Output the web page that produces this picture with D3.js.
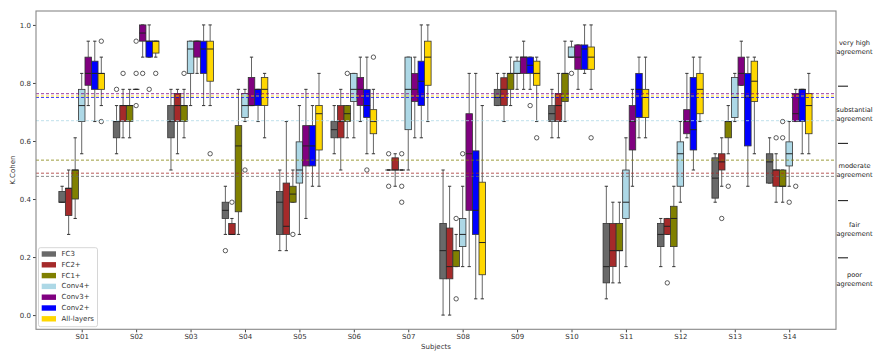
<!DOCTYPE html>
<html>
<head>
<meta charset="utf-8">
<script src="https://cdn.jsdelivr.net/npm/d3@7"></script>
<style>
  body { margin: 0; background: #fff; }
  svg { display: block; }
  text { font-family: "DejaVu Sans", sans-serif; }
</style>
</head>
<body>
<svg id="chart" width="873" height="351"></svg>
<script>
// Subjects on the x axis
const subjects = ["S01","S02","S03","S04","S05","S06","S07","S08","S09","S10","S11","S12","S13","S14"];

// Model variants (one box per subject each) and their colours
const seriesNames = ["FC3","FC2+","FC1+","Conv4+","Conv3+","Conv2+","All-layers"];
const seriesColors = ["#696969","#a52a2a","#808000","#add8e6","#800080","#0000ff","#ffd700"];

// Box statistics per subject: [whisker low, q1, median, q3, whisker high]
const fc3 = [
  [0.389,0.389,0.389,0.426,0.444],[0.556,0.611,0.667,0.667,0.722],[0.5,0.611,0.667,0.722,0.778],
  [0.278,0.333,0.361,0.389,0.444],[0.222,0.278,0.389,0.426,0.5],[0.556,0.611,0.639,0.667,0.722],
  [0.5,0.5,0.5,0.5,0.5],[0.0,0.125,0.222,0.316,0.5],[0.722,0.722,0.75,0.778,0.833],
  [0.611,0.667,0.694,0.722,0.778],[0.056,0.111,0.167,0.316,0.444],[0.167,0.236,0.278,0.316,0.333],
  [0.389,0.403,0.472,0.542,0.556],[0.455,0.455,0.528,0.556,0.611]
];
const fc2 = [
  [0.278,0.343,0.437,0.437,0.5],[0.611,0.667,0.722,0.722,0.778],[0.556,0.667,0.722,0.764,0.778],
  [0.278,0.278,0.278,0.316,0.333],[0.222,0.278,0.306,0.455,0.667],[0.5,0.611,0.667,0.722,0.778],
  [0.444,0.5,0.5,0.542,0.556],[0.0,0.125,0.167,0.3,0.444],[0.667,0.722,0.778,0.818,0.833],
  [0.611,0.667,0.722,0.764,0.833],[0.111,0.167,0.222,0.316,0.389],[0.278,0.278,0.306,0.333,0.333],
  [0.444,0.5,0.528,0.556,0.611],[0.389,0.444,0.5,0.5,0.556]
];
const fc1 = [
  [0.333,0.4,0.5,0.5,0.611],[0.611,0.667,0.722,0.722,0.778],[0.611,0.667,0.722,0.722,0.778],
  [0.278,0.356,0.583,0.653,0.778],[0.389,0.389,0.417,0.444,0.5],[0.611,0.667,0.694,0.722,0.722],
  [0.5,0.5,0.5,0.5,0.5],[0.167,0.167,0.222,0.222,0.278],[0.722,0.778,0.833,0.833,0.889],
  [0.667,0.736,0.833,0.833,0.944],[0.111,0.222,0.222,0.316,0.389],[0.167,0.236,0.333,0.375,0.444],
  [0.556,0.611,0.667,0.667,0.722],[0.389,0.444,0.444,0.5,0.5]
];
const conv4 = [
  [0.556,0.667,0.722,0.778,0.833],[0.778,0.778,0.778,0.778,0.778],[0.722,0.833,0.917,0.944,0.944],
  [0.667,0.681,0.722,0.764,0.778],[0.278,0.455,0.5,0.597,0.722],[0.611,0.736,0.778,0.833,0.833],
  [0.5,0.639,0.778,0.889,0.889],[0.167,0.236,0.278,0.333,0.444],[0.778,0.833,0.833,0.875,0.889],
  [0.889,0.889,0.889,0.924,0.944],[0.167,0.333,0.389,0.5,0.611],[0.389,0.444,0.556,0.597,0.667],
  [0.667,0.681,0.75,0.819,0.833],[0.444,0.514,0.556,0.597,0.667]
];
const conv3 = [
  [0.722,0.792,0.833,0.889,0.944],[0.889,0.944,0.972,1.0,1.0],[0.833,0.889,0.944,0.944,0.944],
  [0.722,0.722,0.722,0.819,0.889],[0.333,0.514,0.583,0.653,0.778],[0.667,0.722,0.778,0.819,0.889],
  [0.611,0.736,0.778,0.833,0.889],[0.167,0.361,0.556,0.694,0.833],[0.778,0.833,0.889,0.889,0.944],
  [0.778,0.847,0.889,0.931,0.931],[0.444,0.569,0.667,0.722,0.778],[0.611,0.625,0.667,0.708,0.833],
  [0.792,0.792,0.833,0.889,0.944],[0.667,0.667,0.694,0.764,0.778]
];
const conv2 = [
  [0.667,0.778,0.833,0.875,0.944],[0.889,0.889,0.944,0.944,1.0],[0.722,0.833,0.917,0.944,1.0],
  [0.667,0.722,0.778,0.778,0.778],[0.444,0.514,0.583,0.653,0.722],[0.556,0.681,0.722,0.778,0.889],
  [0.611,0.722,0.806,0.875,1.0],[0.056,0.278,0.361,0.566,0.833],[0.778,0.833,0.861,0.889,0.889],
  [0.833,0.847,0.917,0.931,1.0],[0.611,0.681,0.778,0.833,0.889],[0.5,0.569,0.639,0.819,0.889],
  [0.444,0.583,0.75,0.833,0.889],[0.556,0.667,0.778,0.778,0.778]
];
const allLayers = [
  [0.722,0.778,0.833,0.833,0.889],[0.889,0.903,0.944,0.944,0.944],[0.722,0.806,0.917,0.944,1.0],
  [0.611,0.722,0.778,0.819,0.833],[0.444,0.569,0.694,0.722,0.833],[0.556,0.625,0.667,0.708,0.778],
  [0.667,0.792,0.889,0.944,1.0],[0.056,0.139,0.25,0.458,0.722],[0.667,0.792,0.833,0.875,0.889],
  [0.778,0.847,0.889,0.924,1.0],[0.611,0.681,0.75,0.778,0.889],[0.667,0.694,0.778,0.833,0.889],
  [0.556,0.736,0.806,0.875,0.889],[0.556,0.625,0.722,0.764,0.833]
];

// Outliers: [subject index (1-based), value]
const fc3Out = [[2,0.778],[4,0.222],[7,0.556],[7,0.444]];
const fc2Out = [[2,0.833],[4,0.389],[12,0.111],[13,0.333],[14,0.611]];
const fc1Out = [[3,0.833],[5,0.278],[6,0.833],[7,0.556],[7,0.444],[7,0.389],[8,0.333],[8,0.056],[13,0.444],[14,0.611],[14,0.667]];
const conv4Out = [[2,0.722],[2,0.833],[2,0.944],[4,0.5],[8,0.556],[10,0.833],[14,0.389]];
const conv3Out = [[2,0.833],[14,0.444]];
const conv2Out = [[2,0.778],[6,0.5],[9,0.722]];
const allOut = [[1,0.944],[1,0.667],[2,0.833],[3,0.556],[6,0.889],[9,0.611],[10,0.611]];

// Overall mean kappa per variant (dashed reference lines)
const meanKappa = [0.478, 0.489, 0.534, 0.670, 0.763, 0.750, 0.755];

// Agreement bands on the right-hand side
const agreementTicks = [0.2, 0.4, 0.6, 0.8];
const agreementLabels = [["very high","agreement"],["substantial","agreement"],["moderate","agreement"],["fair","agreement"],["poor","agreement"]];
const agreementLabelPos = [0.935, 0.70, 0.505, 0.30, 0.125];

const yTicks = [0.0, 0.2, 0.4, 0.6, 0.8, 1.0];

const stats = [fc3, fc2, fc1, conv4, conv3, conv2, allLayers];
const outliers = [fc3Out, fc2Out, fc1Out, conv4Out, conv3Out, conv2Out, allOut];

const svg = d3.select("#chart");
const plotLeft = 36, plotRight = 836, plotTop = 11, plotBottom = 329.3;

const x = d3.scaleLinear().domain([0.16, 14.86]).range([plotLeft, plotRight]);
const y = d3.scaleLinear().domain([-0.049, 1.048]).range([plotBottom, plotTop]);
const yR = d3.scaleLinear().domain([0, 1]).range([315, 29]);

const step = 0.12;
const bw = x(step) - x(0);
const pos = (i, j) => x(i + 1 + (j - 3) * step);

// Axes
const yAxis = d3.axisLeft(y).tickValues(yTicks).tickFormat(d3.format(".1f")).tickSize(3).tickPadding(2);
const xAxis = d3.axisBottom(x).tickValues(d3.range(1, subjects.length + 1))
  .tickFormat(d => subjects[d - 1]).tickSize(3).tickPadding(2);

const gy = svg.append("g").attr("transform", `translate(${plotLeft},0)`).call(yAxis);
const gx = svg.append("g").attr("transform", `translate(0,${plotBottom})`).call(xAxis);
[gx, gy].forEach(g => {
  g.select(".domain").remove();
  g.selectAll(".tick line").attr("stroke", "#444");
  g.selectAll(".tick text").attr("font-size", 7).attr("fill", "#333").attr("font-family", "DejaVu Sans");
});

// Boxes
const plot = svg.append("g");
stats.forEach((arr, j) => {
  const col = seriesColors[j];
  arr.forEach((s, i) => {
    const [lo, q1, med, q3, hi] = s;
    const cx = pos(i, j);
    const g = plot.append("g");
    // whiskers
    g.append("line").attr("x1", cx).attr("x2", cx).attr("y1", y(hi)).attr("y2", y(q3))
      .attr("stroke", "#666").attr("stroke-width", 1);
    g.append("line").attr("x1", cx).attr("x2", cx).attr("y1", y(q1)).attr("y2", y(lo))
      .attr("stroke", "#666").attr("stroke-width", 1);
    // caps
    [lo, hi].forEach(v => {
      g.append("line").attr("x1", cx - bw / 4).attr("x2", cx + bw / 4).attr("y1", y(v)).attr("y2", y(v))
        .attr("stroke", "#333").attr("stroke-width", 1);
    });
    // box
    g.append("rect").attr("x", cx - bw / 2).attr("y", y(q3)).attr("width", bw)
      .attr("height", Math.max(0, y(q1) - y(q3)))
      .attr("fill", col).attr("stroke", "#333").attr("stroke-width", 0.8);
    // median
    g.append("line").attr("x1", cx - bw / 2).attr("x2", cx + bw / 2).attr("y1", y(med)).attr("y2", y(med))
      .attr("stroke", "#222").attr("stroke-width", 1);
  });
  outliers[j].forEach(([si, v]) => {
    plot.append("circle").attr("cx", pos(si - 1, j)).attr("cy", y(v)).attr("r", 2.2)
      .attr("fill", "none").attr("stroke", "#333").attr("stroke-width", 0.8);
  });
});

// Mean reference lines
meanKappa.forEach((m, j) => {
  svg.append("line").attr("x1", plotLeft).attr("x2", plotRight).attr("y1", y(m)).attr("y2", y(m))
    .attr("stroke", seriesColors[j]).attr("stroke-width", 0.9)
    .attr("stroke-dasharray", "3,2").attr("opacity", 0.85);
});

// Frame
svg.append("rect").attr("x", plotLeft).attr("y", plotTop).attr("width", plotRight - plotLeft).attr("height", plotBottom - plotTop)
  .attr("fill", "none").attr("stroke", "#888").attr("stroke-width", 1.1);

// Legend
const lg = svg.append("g");
lg.append("rect").attr("x", 38.5).attr("y", 247.7).attr("width", 59).attr("height", 79)
  .attr("rx", 2).attr("fill", "#fff").attr("fill-opacity", 0.85).attr("stroke", "#ccc").attr("stroke-width", 0.8);
seriesNames.forEach((n, j) => {
  const cy = 254 + j * 10.8;
  lg.append("rect").attr("x", 41.7).attr("y", cy - 2.7).attr("width", 14.3).attr("height", 5.4).attr("fill", seriesColors[j]);
  lg.append("text").attr("x", 61.5).attr("y", cy).attr("dominant-baseline", "central")
    .attr("font-size", 7).attr("fill", "#333").text(n);
});

// Axis titles
svg.append("text").attr("transform", `translate(12.5,${(plotTop + plotBottom) / 2}) rotate(-90)`)
  .attr("text-anchor", "middle").attr("dominant-baseline", "central").attr("font-size", 7).attr("fill", "#333").text("K.Cohen");
svg.append("text").attr("x", (plotLeft + plotRight) / 2).attr("y", 347).attr("text-anchor", "middle")
  .attr("dominant-baseline", "central").attr("font-size", 7).attr("fill", "#333").text("Subjects");

// Agreement scale on the right
agreementTicks.forEach(t => {
  svg.append("line").attr("x1", 838).attr("x2", 848).attr("y1", yR(t)).attr("y2", yR(t))
    .attr("stroke", "#222").attr("stroke-width", 1.1);
});
agreementLabels.forEach((lines, k) => {
  const cy = yR(agreementLabelPos[k]);
  const t = svg.append("text").attr("text-anchor", "middle").attr("font-size", 6.6)
    .attr("font-family", "Liberation Sans, Arial, sans-serif").attr("fill", "#222");
  lines.forEach((ln, li) => {
    t.append("tspan").attr("x", 854.5).attr("y", cy + (li === 0 ? -4.5 : 4.5))
      .attr("dominant-baseline", "central").text(ln);
  });
});
</script>
</body>
</html>
